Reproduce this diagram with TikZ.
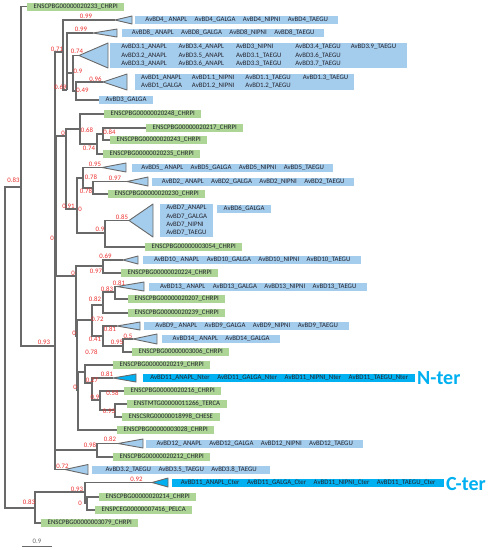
\documentclass[tikz,border=0pt]{standalone}
\usepackage{fontspec}
\setmainfont{Carlito}
\newcommand{\treefont}{\fontsize{6.8pt}{8.2pt}\selectfont}
\newcommand{\colgap}{\hspace{7.5pt}}
\definecolor{treegray}{RGB}{105,105,105}
\definecolor{ensgreen}{RGB}{173,214,150}
\definecolor{bdblue}{RGB}{164,204,236}
\definecolor{tercyan}{RGB}{0,176,240}
\definecolor{boxtext}{RGB}{35,35,45}
\definecolor{supred}{RGB}{236,45,45}

\begin{document}
\begin{tikzpicture}[x=1pt, y=-1pt,
  br/.style = {draw=treegray, line width=1.2pt},
  tri/.style = {draw=treegray, line width=0.9pt, fill=bdblue, line join=round},
  leafbox/.style = {anchor=west, font=\treefont, text=boxtext, inner xsep=6.5pt, inner ysep=0pt, minimum height=8pt, text height=5pt, text depth=2pt},
  ens/.style = {leafbox, fill=ensgreen},
  avbd/.style = {leafbox, fill=bdblue},
  ter/.style = {leafbox, fill=tercyan},
  grp/.style = {anchor=west, font=\treefont, text=boxtext, fill=bdblue, inner xsep=6pt, inner ysep=0pt},
  sup/.style = {font=\treefont, text=supred, inner sep=0pt},
  terlbl/.style = {anchor=west, font=\fontsize{20pt}{22pt}\selectfont\bfseries, text=tercyan, inner sep=0pt}]

    \useasboundingbox (0,0) rectangle (492,550);

    % 1. Inner nodes of the tree
    \coordinate (r) at (5,346);
    \coordinate (A) at (21,187);
    \coordinate (B) at (55,346);
    \coordinate (T1) at (63,52);
    \coordinate (T2) at (67,90);
    \coordinate (T3) at (73,73);
    \coordinate (T4) at (76,91);
    \coordinate (Z) at (56,241);
    \coordinate (Y) at (66,136);
    \coordinate (C) at (80,129);
    \coordinate (D) at (97,144);
    \coordinate (E) at (103,134);
    \coordinate (Sp1) at (77,209);
    \coordinate (H1) at (83,178);
    \coordinate (H2) at (93,188);
    \coordinate (K) at (105,233);
    \coordinate (Sp2) at (76,276);
    \coordinate (N10) at (103,266);
    \coordinate (Sp3) at (77,336);
    \coordinate (N913) at (92,320);
    \coordinate (N13b) at (103,305);
    \coordinate (N13a) at (115,292);
    \coordinate (N9) at (103,336);
    \coordinate (N14) at (123,346);
    \coordinate (Sp4) at (78,390);
    \coordinate (S1) at (85,372);
    \coordinate (N27) at (92,383);
    \coordinate (N9b) at (100,400);
    \coordinate (N93) at (115,410);
    \coordinate (G) at (97,450);
    \coordinate (X) at (35,508);
    \coordinate (Q) at (85,492);
    \coordinate (R) at (87,503);

    % 2. Tips of the collapsed clades
    \coordinate (c4) at (115,20);
    \coordinate (c8) at (93,33);
    \coordinate (c3) at (79,55.5);
    \coordinate (c1) at (103,82);
    \coordinate (c5) at (102,167.5);
    \coordinate (c2) at (127,181.5);
    \coordinate (c7) at (129,220.5);
    \coordinate (c10) at (123,260);
    \coordinate (c13) at (117,286.5);
    \coordinate (c9) at (117,326);
    \coordinate (c14) at (133,339);
    \coordinate (cN) at (113,378);
    \coordinate (c12) at (118,443.5);
    \coordinate (c32) at (65,469.5);
    \coordinate (cC) at (152,482.5);

    % 3. Leaves
    \node[ens] (e20233) at (27,6.5) {ENSCPBG00000020233\_CHRPI};
    \node[avbd, minimum width=203pt] (b4) at (135,20) {AvBD4\_ ANAPL\colgap AvBD4\_GALGA\colgap AvBD4\_NIPNI\colgap AvBD4\_TAEGU};
    \node[avbd, minimum width=202pt] (b8) at (122,33) {AvBD8\_ ANAPL\colgap AvBD8\_GALGA\colgap AvBD8\_NIPNI\colgap AvBD8\_TAEGU};
    \node[grp, minimum width=297pt, minimum height=25pt] (b3) at (110,55.5) {\begin{tabular}{@{}l@{\hspace{12pt}}l@{\hspace{12pt}}l@{\hspace{14pt}}l@{\hspace{10pt}}l@{}}
      AvBD3.1\_ANAPL & AvBD3.4\_ANAPL & AvBD3\_NIPNI & AvBD3.4\_TAEGU & AvBD3.9\_TAEGU\\
      AvBD3.2\_ANAPL & AvBD3.5\_ANAPL & AvBD3.1\_TAEGU & AvBD3.6\_TAEGU & \\
      AvBD3.3\_ANAPL & AvBD3.6\_ANAPL & AvBD3.3\_TAEGU & AvBD3.7\_TAEGU & \end{tabular}};
    \node[grp, minimum width=219pt, minimum height=16pt] (b1) at (135,82) {\begin{tabular}{@{}l@{\hspace{10pt}}l@{\hspace{11pt}}l@{\hspace{12pt}}l@{}}
      AvBD1\_ANAPL & AvBD1.1\_NIPNI & AvBD1.1\_TAEGU & AvBD1.3\_TAEGU\\
      AvBD1\_GALGA & AvBD1.2\_NIPNI & AvBD1.2\_TAEGU & \end{tabular}};
    \node[avbd] (b3g) at (99,100) {AvBD3\_GALGA};
    \node[ens] (e20248) at (104,114) {ENSCPBG00000020248\_CHRPI};
    \node[ens] (e20217) at (146,128) {ENSCPBG00000020217\_CHRPI};
    \node[ens] (e20243) at (110,140) {ENSCPBG00000020243\_CHRPI};
    \node[ens] (e20235) at (103,154) {ENSCPBG00000020235\_CHRPI};
    \node[avbd, minimum width=201pt] (b5) at (132,167.5) {AvBD5\_ ANAPL\colgap AvBD5\_GALGA\colgap AvBD5\_NIPNI\colgap AvBD5\_TAEGU};
    \node[avbd, minimum width=202pt] (b2) at (152,181.5) {AvBD2\_ ANAPL\colgap AvBD2\_GALGA\colgap AvBD2\_NIPNI\colgap AvBD2\_TAEGU};
    \node[ens] (e20230) at (108,194) {ENSCPBG00000020230\_CHRPI};
    \node[grp, minimum width=53pt, minimum height=33pt] (b7) at (160,220.5) {\begin{tabular}{@{}l@{}}
      AvBD7\_ANAPL\\ AvBD7\_GALGA\\ AvBD7\_NIPNI\\ AvBD7\_TAEGU\end{tabular}};
    \node[avbd] (b6) at (217,208.5) {AvBD6\_GALGA};
    \node[ens] (e3054) at (145,247) {ENSCPBG00000003054\_CHRPI};
    \node[avbd, minimum width=218pt] (b10) at (143,260) {AvBD10\_ ANAPL\colgap AvBD10\_GALGA\colgap AvBD10\_NIPNI\colgap AvBD10\_TAEGU};
    \node[ens] (e20224) at (121,273) {ENSCPBG00000020224\_CHRPI};
    \node[avbd, minimum width=218pt] (b13) at (149,286.5) {AvBD13\_ ANAPL\colgap AvBD13\_GALGA\colgap AvBD13\_NIPNI\colgap AvBD13\_TAEGU};
    \node[ens] (e20207) at (128,299) {ENSCPBG00000020207\_CHRPI};
    \node[ens] (e20239) at (128,313) {ENSCPBG00000020239\_CHRPI};
    \node[avbd, minimum width=205pt] (b9) at (144,326) {AvBD9\_ ANAPL\colgap AvBD9\_GALGA\colgap AvBD9\_NIPNI\colgap AvBD9\_TAEGU};
    \node[avbd, minimum width=118pt] (b14) at (162,339) {AvBD14\_ ANAPL\colgap AvBD14\_GALGA};
    \node[ens] (e3006) at (132,352) {ENSCPBG00000003006\_CHRPI};
    \node[ens] (e20219) at (113,365) {ENSCPBG00000020219\_CHRPI};
    \node[ter, minimum width=272pt] (bN) at (143,378) {AvBD11\_ANAPL\_Nter\colgap AvBD11\_GALGA\_Nter\colgap AvBD11\_NIPNI\_Nter\colgap AvBD11\_TAEGU\_Nter};
    \node[ens] (e20216) at (124,391) {ENSCPBG00000020216\_CHRPI};
    \node[ens] (e11266) at (127,404) {ENSTMTG00000011266\_TERCA};
    \node[ens] (e18998) at (122,417) {ENSCSRG00000018998\_CHESE};
    \node[ens] (e3028) at (117,430) {ENSCPBG00000003028\_CHRPI};
    \node[avbd, minimum width=217pt] (b12) at (146,443.5) {AvBD12\_ ANAPL\colgap AvBD12\_GALGA\colgap AvBD12\_NIPNI\colgap AvBD12\_TAEGU};
    \node[ens] (e20212) at (113,457) {ENSCPBG00000020212\_CHRPI};
    \node[avbd, minimum width=178pt] (b32) at (92,469.5) {AvBD3.2\_TAEGU\colgap AvBD3.5\_TAEGU\colgap AvBD3.8\_TAEGU};
    \node[ter, minimum width=272pt] (bC) at (172,482.5) {AvBD11\_ANAPL\_Cter\colgap AvBD11\_GALGA\_Cter\colgap AvBD11\_NIPNI\_Cter\colgap AvBD11\_TAEGU\_Cter};
    \node[ens] (e20214) at (99,497) {ENSCPBG00000020214\_CHRPI};
    \node[ens] (e7416) at (95,510) {ENSPCEG00000007416\_PELCA};
    \node[ens] (e3079) at (41,523) {ENSCPBG00000003079\_CHRPI};

    \node[terlbl] (nter) at (417,378) {N-ter};
    \node[terlbl] (cter) at (446,484) {C-ter};

    % 4. Branches
    \draw[br] (r) |- (A);
    \draw[br] (r) |- (X);
    \draw[br] (A) |- (e20233);
    \draw[br] (A) |- (B);
    \draw[br] (B) |- (T1);
    \draw[br] (B) |- (Z);
    \draw[br] (B) |- (G);
    \draw[br] (B) |- (c32);
    \draw[br] (T1) |- (c4);
    \draw[br] (T1) |- (T2);
    \draw[br] (T2) |- (c8);
    \draw[br] (T2) |- (T3);
    \draw[br] (T3) |- (c3);
    \draw[br] (T3) |- (T4);
    \draw[br] (T4) |- (c1);
    \draw[br] (T4) |- (b3g);
    \draw[br] (Z) |- (Y);
    \draw[br] (Z) |- (Sp2);
    \draw[br] (Y) |- (C);
    \draw[br] (Y) |- (Sp1);
    \draw[br] (C) |- (e20248);
    \draw[br] (C) |- (D);
    \draw[br] (D) |- (E);
    \draw[br] (D) |- (e20235);
    \draw[br] (E) |- (e20217);
    \draw[br] (E) |- (e20243);
    \draw[br] (Sp1) |- (H1);
    \draw[br] (Sp1) |- (K);
    \draw[br] (H1) |- (c5);
    \draw[br] (H1) |- (H2);
    \draw[br] (H2) |- (c2);
    \draw[br] (H2) |- (e20230);
    \draw[br] (K) |- (c7);
    \draw[br] (K) |- (e3054);
    \draw[br] (Sp2) |- (N10);
    \draw[br] (Sp2) |- (Sp3);
    \draw[br] (N10) |- (c10);
    \draw[br] (N10) |- (e20224);
    \draw[br] (Sp3) |- (N913);
    \draw[br] (Sp3) |- (Sp4);
    \draw[br] (N913) |- (N13b);
    \draw[br] (N913) |- (N9);
    \draw[br] (N13b) |- (N13a);
    \draw[br] (N13b) |- (e20239);
    \draw[br] (N13a) |- (c13);
    \draw[br] (N13a) |- (e20207);
    \draw[br] (N9) |- (c9);
    \draw[br] (N9) |- (N14);
    \draw[br] (N14) |- (c14);
    \draw[br] (N14) |- (e3006);
    \draw[br] (Sp4) |- (S1);
    \draw[br] (Sp4) |- (e3028);
    \draw[br] (S1) |- (e20219);
    \draw[br] (S1) |- (N27);
    \draw[br] (N27) |- (cN);
    \draw[br] (N27) |- (N9b);
    \draw[br] (N9b) |- (e20216);
    \draw[br] (N9b) |- (N93);
    \draw[br] (N93) |- (e11266);
    \draw[br] (N93) |- (e18998);
    \draw[br] (G) |- (c12);
    \draw[br] (G) |- (e20212);
    \draw[br] (X) |- (Q);
    \draw[br] (X) |- (e3079);
    \draw[br] (Q) |- (cC);
    \draw[br] (Q) |- (R);
    \draw[br] (R) |- (e20214);
    \draw[br] (R) |- (e7416);

    % 5. Collapsed clades
    \draw[tri] (c4) -- (132,16) -- (132,24) -- cycle;
    \draw[tri] (c8) -- (117,29) -- (117,37) -- cycle;
    \draw[tri] (c3) -- (108,43) -- (108,68) -- cycle;
    \draw[tri] (c1) -- (127,74) -- (127,90) -- cycle;
    \draw[tri] (c5) -- (126,163) -- (126,172) -- cycle;
    \draw[tri] (c2) -- (148,177) -- (148,186) -- cycle;
    \draw[tri] (c7) -- (153,204) -- (153,237) -- cycle;
    \draw[tri] (c10) -- (138,256) -- (138,264) -- cycle;
    \draw[tri] (c13) -- (144,282) -- (144,291) -- cycle;
    \draw[tri] (c9) -- (140,322) -- (140,330) -- cycle;
    \draw[tri] (c14) -- (157,334) -- (157,344) -- cycle;
    \draw[tri, fill=tercyan] (cN) -- (136,374) -- (136,382) -- cycle;
    \draw[tri] (c12) -- (143,439) -- (143,448) -- cycle;
    \draw[tri] (c32) -- (88,464.5) -- (88,474.5) -- cycle;
    \draw[tri, fill=tercyan] (cC) -- (168,478) -- (168,487) -- cycle;

    % 6. Support values
    \node[sup] (s1) at (13.5,180) {0.83};
    \node[sup] (s2) at (86,16) {0.99};
    \node[sup] (s3) at (81,29) {0.99};
    \node[sup] (s4) at (57,49) {0.71};
    \node[sup] (s5) at (77,51) {0.74};
    \node[sup] (s6) at (78,71) {0.9};
    \node[sup] (s7) at (60.5,87) {0.69};
    \node[sup] (s8) at (95.5,79) {0.96};
    \node[sup] (s9) at (82.5,90) {0.49};
    \node[sup] (s10) at (63,133) {0};
    \node[sup] (s11) at (87,130) {0.68};
    \node[sup] (s12) at (109.5,132) {0.84};
    \node[sup] (s13) at (89,148) {0.74};
    \node[sup] (s14) at (95,164) {0.95};
    \node[sup] (s15) at (91,177) {0.78};
    \node[sup] (s16) at (115,178) {0.97};
    \node[sup] (s17) at (86,191) {0.78};
    \node[sup] (s18) at (68.5,206) {0.91};
    \node[sup] (s19) at (80,209) {0};
    \node[sup] (s20) at (52,238) {0};
    \node[sup] (s21) at (122,217) {0.85};
    \node[sup] (s22) at (100,229) {0.9};
    \node[sup] (s23) at (105.5,256) {0.69};
    \node[sup] (s24) at (96,271) {0.97};
    \node[sup] (s25) at (73,273) {0};
    \node[sup] (s26) at (119,283) {0.81};
    \node[sup] (s27) at (107,289) {0.83};
    \node[sup] (s28) at (95,299) {0.82};
    \node[sup] (s29) at (97.5,319) {0.72};
    \node[sup] (s30) at (110,329) {0.81};
    \node[sup] (s31) at (74,333) {0};
    \node[sup] (s32) at (95,339) {0.41};
    \node[sup] (s33) at (117,342) {0.95};
    \node[sup] (s34) at (128,336) {0.5};
    \node[sup] (s35) at (91.5,352) {0.78};
    \node[sup] (s36) at (107,374) {0.81};
    \node[sup] (s37) at (92,380) {0.27};
    \node[sup] (s38) at (75,387) {0};
    \node[sup] (s39) at (95,397) {0.9};
    \node[sup] (s40) at (112.5,393) {0.58};
    \node[sup] (s41) at (109,411) {0.93};
    \node[sup] (s42) at (44,342) {0.93};
    \node[sup] (s43) at (90,445) {0.98};
    \node[sup] (s44) at (110,439) {0.82};
    \node[sup] (s45) at (62.5,466) {0.72};
    \node[sup] (s46) at (136.5,479) {0.92};
    \node[sup] (s47) at (77,489) {0.93};
    \node[sup] (s48) at (80,503) {0};
    \node[sup] (s49) at (29,502) {0.83};

    % 7. Scale bar
    \coordinate (sbl) at (22,546);
    \coordinate (sbr) at (52,546);
    \draw[br, line width=0.8pt] (sbl) -- (sbr) node[midway, above=2pt, font=\treefont, text=treegray, inner sep=0pt] {0.9};
\end{tikzpicture}
\end{document}
